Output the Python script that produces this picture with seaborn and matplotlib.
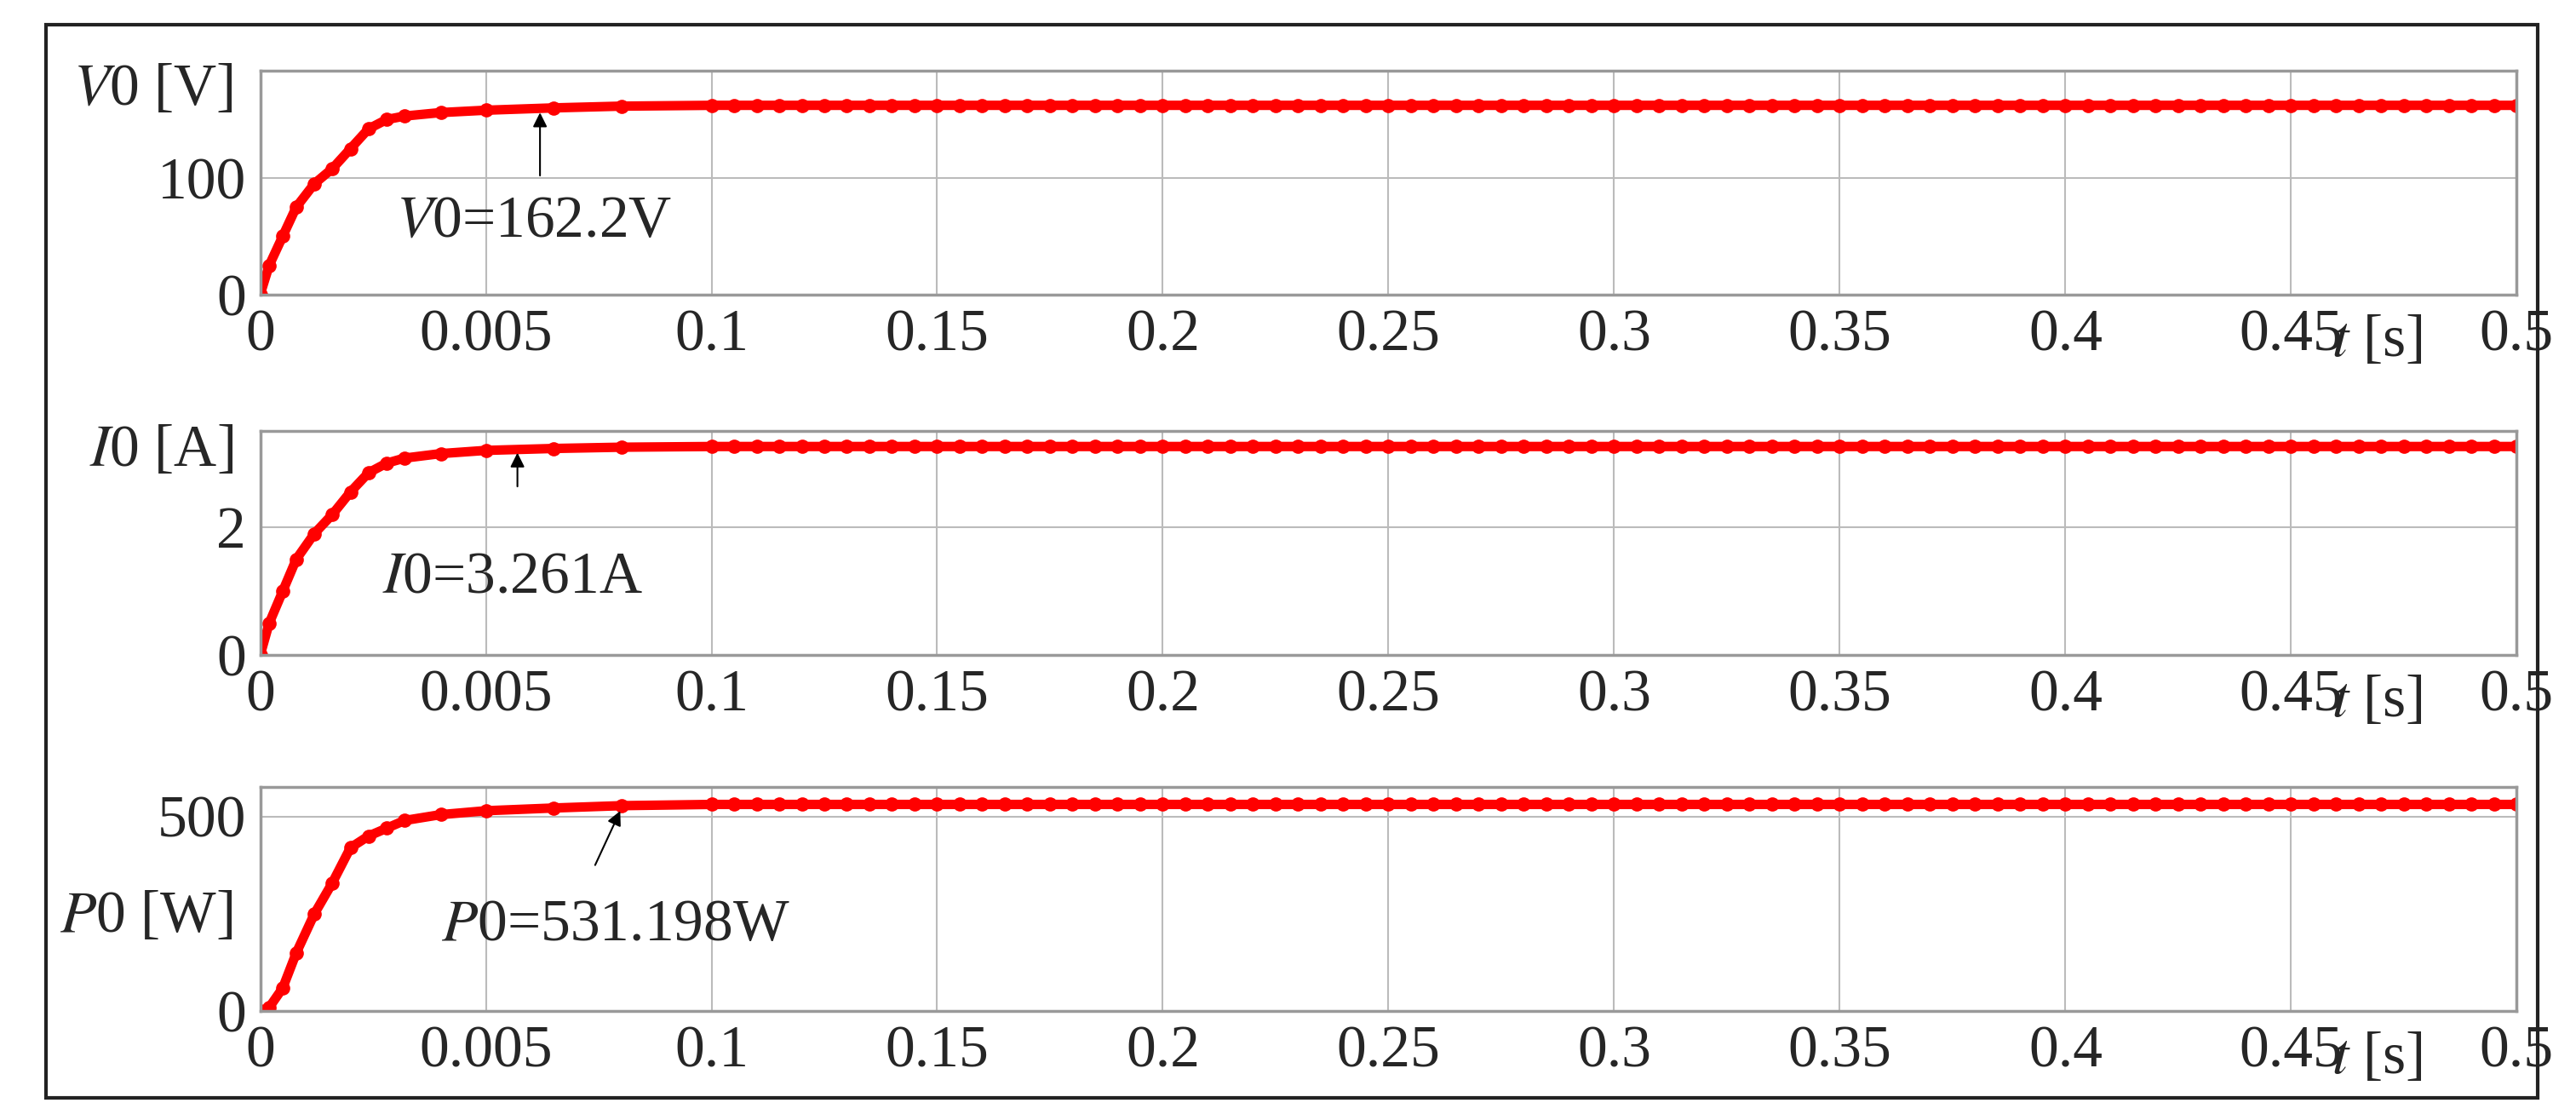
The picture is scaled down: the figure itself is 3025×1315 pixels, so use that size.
import numpy as np
import matplotlib
matplotlib.use("Agg")
import matplotlib.pyplot as plt
import seaborn as sns
import pandas as pd

sns.set_theme(style="whitegrid")
plt.rcParams['font.family'] = ['Liberation Serif', 'DejaVu Serif']
plt.rcParams['mathtext.fontset'] = 'stix'

rise_t = [0, 0.002, 0.005, 0.008, 0.012, 0.016, 0.020, 0.024, 0.028, 0.032, 0.040, 0.050, 0.065, 0.080, 0.100]
V_rise = [0, 25, 50, 75, 95, 108, 125, 142, 150, 153, 156, 158, 160, 161.5, 162.2]
I_rise = [0, 0.5, 1.0, 1.5, 1.9, 2.2, 2.55, 2.85, 3.0, 3.08, 3.15, 3.2, 3.23, 3.25, 3.261]
P_rise = [0, 10, 60, 150, 250, 330, 420, 450, 470, 490, 505, 515, 522, 528, 531.198]
plateau_t = list(np.arange(0.105, 0.5001, 0.005))
V_final, I_final, P_final = 162.2, 3.261, 531.198

xticks = [0, 0.05, 0.1, 0.15, 0.2, 0.25, 0.3, 0.35, 0.4, 0.45, 0.5]
xticklabels = ["0", "0.005", "0.1", "0.15", "0.2", "0.25", "0.3", "0.35", "0.4", "0.45", "0.5"]

t = rise_t + plateau_t
series = [
    (V_rise + [V_final]*len(plateau_t), (0, 192), [0, 100], ["0", "100"], r"$V$0 [V]", "top",
     r"$V$0=162.2V", (0.030, 62), (0.062, 100), (0.062, 158)),
    (I_rise + [I_final]*len(plateau_t), (0, 3.5), [0, 2], ["0", "2"], r"$I$0 [A]", "top",
     r"$I$0=3.261A", (0.027, 1.2), (0.057, 2.6), (0.057, 3.2)),
    (P_rise + [P_final]*len(plateau_t), (0, 575), [0, 500], ["0", "500"], r"$P$0 [W]", "mid",
     r"$P$0=531.198W", (0.040, 220), (0.074, 370), (0.080, 520)),
]

FS = 50
fig = plt.figure(figsize=(30.25, 13.15), dpi=100)
fig.patches.append(plt.Rectangle((0.018, 0.02), 0.967, 0.958, transform=fig.transFigure,
                                 fill=False, lw=3, ec='#222222'))
bottoms = [0.737, 0.415, 0.097]
for (y, ylim, yt, ytl, ylab, lpos, ann, tpos, a0, a1), b in zip(series, bottoms):
    ax = fig.add_axes([0.101, b, 0.876, 0.2])
    df = pd.DataFrame({"t": t, "y": y})
    sns.lineplot(data=df, x="t", y="y", ax=ax, color="#ff0000", lw=8, marker="o",
                 markersize=12, markeredgewidth=0)
    ax.set_xlim(0, 0.5); ax.set_ylim(*ylim)
    ax.set_xticks(xticks); ax.set_xticklabels(xticklabels, fontsize=FS)
    ax.set_yticks(yt); ax.set_yticklabels(ytl, fontsize=FS)
    ax.set_xlabel(""); ax.set_ylabel("")
    ax.grid(True, color="#bbbbbb", lw=1.5)
    for s in ax.spines.values():
        s.set_color("#999999"); s.set_linewidth(2.5); s.set_visible(True)
    ax.tick_params(axis='both', length=0, pad=12)
    if lpos == "top":
        ax.text(-0.012, 1.03, ylab, transform=ax.transAxes, ha="right", va="top", fontsize=FS)
    else:
        ax.text(-0.012, 0.42, ylab, transform=ax.transAxes, ha="right", va="center", fontsize=FS)
    ax.text(0.469, -0.09, r"$t$ [s]", transform=ax.get_xaxis_transform(), ha="center",
            va="top", fontsize=FS)
    ax.text(tpos[0], tpos[1], ann, fontsize=FS, ha="left", va="center")
    ax.annotate("", xy=a1, xytext=a0, arrowprops=dict(arrowstyle="-|>", color="black", lw=1.5,
                                                      mutation_scale=25))
fig.savefig("out.png", dpi=100)
